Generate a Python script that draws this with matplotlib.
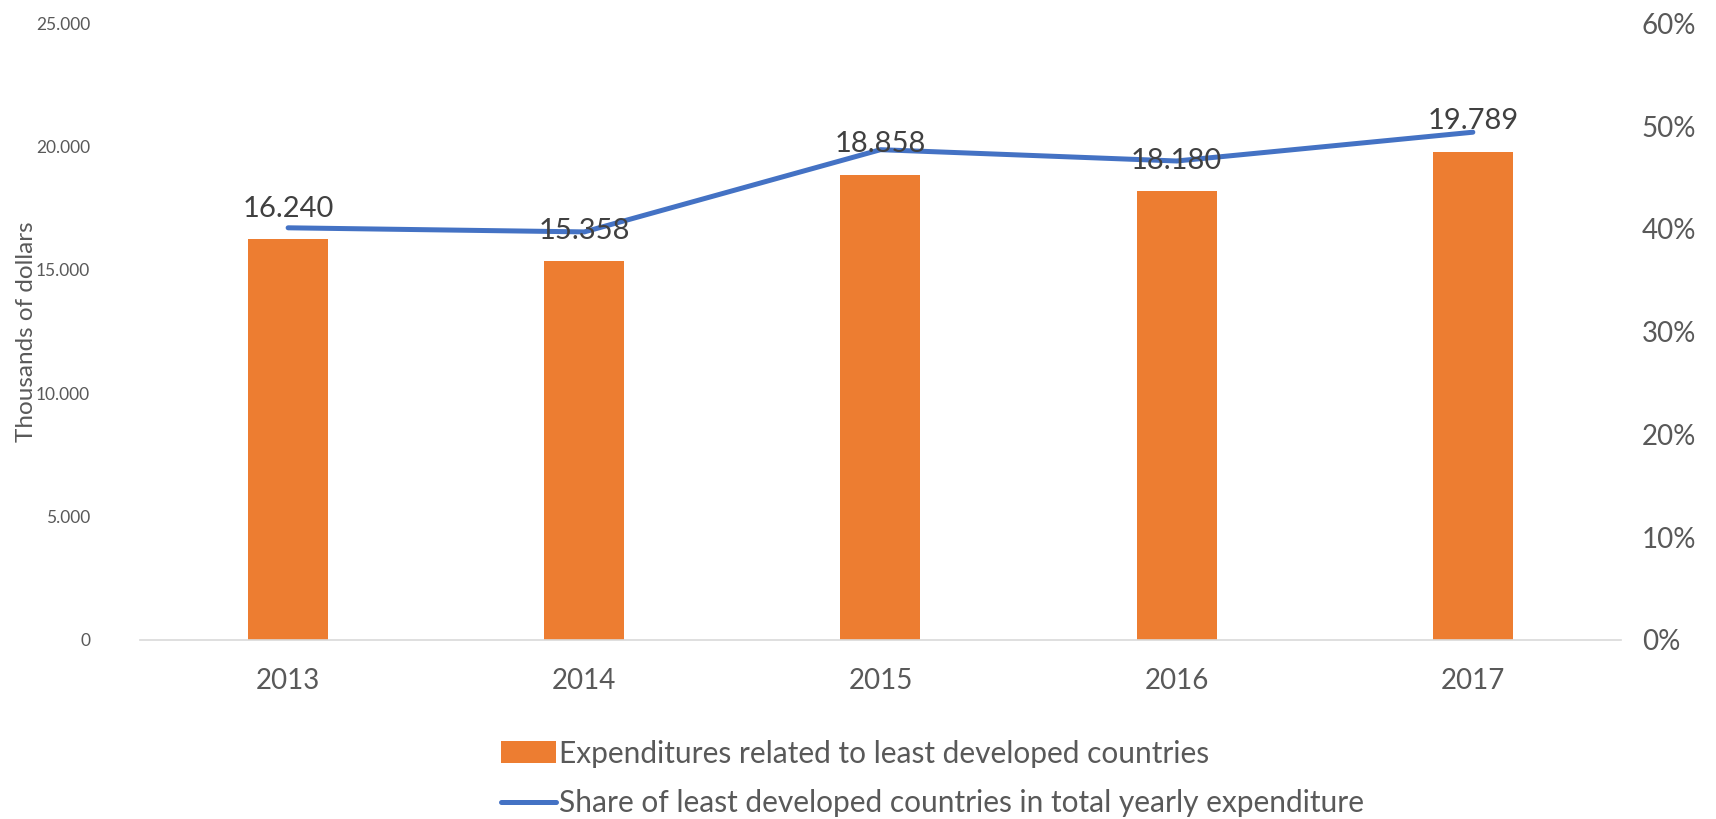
import matplotlib.pyplot as plt
from matplotlib.ticker import FuncFormatter, MultipleLocator

plt.rcParams['font.family'] = ['Lato', 'DejaVu Sans']

# data
years = ["2013", "2014", "2015", "2016", "2017"]
expenditures = [16240, 15358, 18858, 18180, 19789]
share = [0.401, 0.397, 0.477, 0.466, 0.494]
bar_labels = ["16.240", "15.358", "18.858", "18.180", "19.789"]

bar_color = "#ED7D31"
line_color = "#4472C4"
text_gray = "#595959"

fig = plt.figure(figsize=(17.16, 8.19), dpi=100)
ax = fig.add_axes([0.0816, 0.2186, 0.863, 0.753])
ax2 = ax.twinx()

x = range(len(years))
bars = ax.bar(x, expenditures, width=0.27, color=bar_color, zorder=2,
              label="Expenditures related to least developed countries")
line, = ax2.plot(x, share, color=line_color, linewidth=3.6, solid_capstyle="round",
                 label="Share of least developed countries in total yearly expenditure")

# data labels above bars
for xi, v, lab in zip(x, expenditures, bar_labels):
    ax.annotate(lab, (xi, v), xytext=(0, 22), textcoords="offset points",
                ha="center", va="center", fontsize=21, color="#404040", zorder=5)

ax.set_xlim(-0.5, len(years) - 0.5)
ax.set_ylim(0, 25000)
ax2.set_ylim(0, 0.6)
ax.yaxis.set_major_locator(MultipleLocator(5000))
ax2.yaxis.set_major_locator(MultipleLocator(0.1))
ax.yaxis.set_major_formatter(FuncFormatter(lambda v, p: f"{int(v):,}".replace(",", ".")))
ax2.yaxis.set_major_formatter(FuncFormatter(lambda v, p: f"{v * 100:.0f}%"))

ax.set_xticks(list(x))
ax.set_xticklabels(years)
ax.tick_params(axis="x", length=0, pad=20, labelsize=20, labelcolor=text_gray)
ax.tick_params(axis="y", length=0, pad=36, labelsize=12.5, labelcolor=text_gray)
ax2.tick_params(axis="y", length=0, pad=15, labelsize=20, labelcolor=text_gray)

for a in (ax, ax2):
    for s in a.spines.values():
        s.set_visible(False)
ax.spines["bottom"].set_visible(True)
ax.spines["bottom"].set_color("#d9d9d9")
ax.spines["bottom"].set_linewidth(1.2)

ax.set_ylabel("Thousands of dollars", fontsize=17.5, color=text_gray)
ax.yaxis.set_label_coords(-0.0695, 0.5)

ax2.set_zorder(ax.get_zorder() + 1)
ax.set_zorder(ax2.get_zorder() + 1)
ax.patch.set_visible(False)

fig.legend(handles=[bars, line], loc="upper left", bbox_to_anchor=(0.283, 0.115),
           frameon=False, fontsize=21.5, labelcolor=text_gray, handlelength=1.85,
           handleheight=0.75, handletextpad=0.12, labelspacing=0.72, borderpad=0)

fig.savefig("out.png", dpi=100)
